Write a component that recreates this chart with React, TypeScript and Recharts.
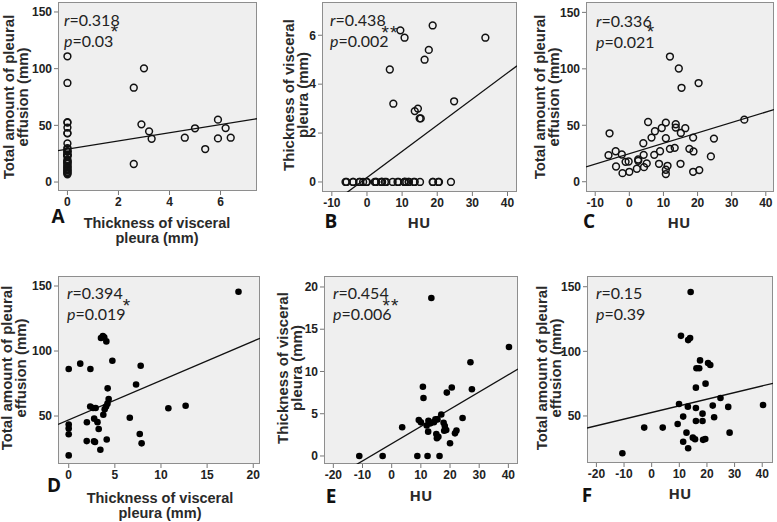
import React from 'react';
import { ScatterChart, Scatter, XAxis, YAxis, ReferenceLine } from 'recharts';

// top row: one cohort (A, B, C share the same patients)
const topThickness = [6.2, 5.9, 6.4, 5.9, 5.4, 5.0, 4.6, 3.2, 3.3, 3.0, 2.9, 2.6, 2.6,
  0, 0, 0, 0, 0, 0, 0, 0, 0, 0, 0, 0, 0, 0, 0, 0, 0, 0, 0, 0, 0, 0, 0, 0, 0, 0, 0, 0, 0, 0, 0, 0, 0, 0];
const topHU = [9.5, 10.7, 18.7, 33.7, 17.6, 16.4, 6.5, 7.5, 24.8, 14.5, 13.6, 15.3, 15.0,
  11.9, 20.3, -5.8, 5.5, 10.7, 13.6, 15.1, 4.1, 13.3, 11.9, 18.8, -4.0, 9.0, -6.1, -2.2, 4.2, 7.3,
  23.9, 2.6, 2.6, -1.1, -0.2, 5.1, 8.7, -3.9, 4.3, 11.2, 10.7, 2.2, -2.0, 0, 10.7, 18.7, 20.5];
const topEffusion = [47.6, 38.5, 39.1, 55, 29.1, 47.4, 39.1, 44.7, 38.2, 100.3, 50.9, 83.2, 15.9,
  110.9, 87.4, 42.9, 52.9, 52.4, 48, 43.2, 34.1, 30, 29.1, 26.8, 27, 27, 23.5, 24.1, 23.8, 23.8,
  22.4, 19.7, 18.5, 17.6, 17.9, 16.2, 15.9, 13.5, 12.9, 14.1, 10.6, 11.5, 7.6, 8.8, 6.8, 8.8, 10.3];

// D: thickness vs effusion
const dThickness = [18.4, 0, 1.25, 2.35, 3.5, 3.7, 3.85, 4.08, 4.73, 7.8, 7.3, 4.22, 4.33, 4.2, 4.05, 3.9,
  3.75, 2.33, 2.65, 2.92, 6.62, 10.8, 12.67, 0, 0, 0, 1.97, 2.76, 3.12, 3.25, 1.95, 2.74, 2.85,
  3.43, 4.12, 7.7, 7.9, 0];
const dEffusion = [145.6, 86.2, 90.3, 86.2, 110, 111.6, 110.5, 107.4, 92.5, 88.7, 74.2, 71.3, 63.1, 59.5, 57.3, 55.2,
  51, 57.3, 56.2, 56.2, 48.7, 56, 57.9, 43.4, 40.5, 36, 45.2, 48, 45.3, 40, 30.7, 30.6, 30,
  24.1, 32, 36.2, 29, 19.7];

// E: HU vs thickness
const eHU = [13.6, 40.2, 27.0, 10.7, 10.9, 18.9, 20.6, 27.5, 17.0, 24.3, 3.6, 9.3, 10.0, 12.6, 13.3, 12.0,
  14.5, 15.0, 15.7, 17.8, 18.2, 18.7, 18.0, 12.5, 15.3, 16.0, 15.5, 22.2, 21.7, 20.0, -11.1, -3.1, 8.8, 12.3, 16.4];
const eThickness = [18.7, 12.9, 11.1, 8.2, 6.86, 7.5, 8.1, 7.9, 4.9, 4.5, 3.4, 4.26, 3.98, 4.17, 3.86, 3.6,
  4.0, 4.33, 4.33, 3.94, 3.55, 3.07, 2.99, 2.88, 2.6, 2.28, 2.09, 3.0, 2.68, 1.5, 0, 0, 0, 0, 0];

// F: HU vs effusion
const fHU = [14.1, 10.6, 13.2, 13.9, 17.5, 20.4, 21.2, 16.2, 17.2, 19.5, 16.0, 9.9, 13.1, 16.0, 22.1, 24.9, 27.7,
  18.4, 11.4, 22.6, 16.0, 18.4, -2.7, 4.0, 9.4, 12.6, 14.9, 15.7, 18.6, 19.4, 28.2, 11.4, 13.2, -10.6, 40.3];
const fEffusion = [145.9, 112, 108.7, 110.3, 93, 91, 89.4, 86.9, 86.9, 75, 71.9, 59.3, 57.2, 56.2, 58, 63.9, 57,
  51.8, 49.5, 49, 46.1, 46.1, 41, 41, 43.8, 37.1, 33.2, 32, 31.5, 32.2, 37.1, 30.1, 25, 21.2, 58.5];

const thicknessTicks = [0, 2, 4, 6];
const thicknessTicksD = [0, 5, 10, 15, 20];
const huTicks = [-10, 0, 10, 20, 30, 40];
const huTicksWide = [-20, -10, 0, 10, 20, 30, 40];
const effusionTicks = [0, 50, 100, 150];
const effusionTicksD = [50, 100, 150];
const thicknessYTicks = [0, 2, 4, 6];
const thicknessYTicksE = [0, 5, 10, 15, 20];

const zip = (xs: number[], ys: number[]) => xs.map((x, i) => ({ x, y: ys[i] }));

const AXIS_FONT = '"Liberation Sans", Arial, sans-serif';
const NOTE_FONT = 'Lato, "Open Sans", sans-serif';
const LABEL_FONT = '"Open Sans", "Liberation Sans", sans-serif';

const EFFUSION_TITLE = ['Total amount of pleural', 'effusion (mm)'];
const THICK_TITLE = ['Thickness of visceral', 'pleura (mm)'];

const Y_AXIS_W = 40;
const X_AXIS_H = 22;

const Panel = ({ cfg }: { cfg: any }) => {
  const { box, xDomain, yDomain, xTicks, yTicks, points, filled, fit } = cfg;
  const [x0, x1] = xDomain;
  const seg = [
    { x: x0, y: fit[0] + fit[1] * x0 },
    { x: x1, y: fit[0] + fit[1] * x1 },
  ];
  const tickStyle = { fontSize: 12, fontWeight: 700, fill: '#222', fontFamily: AXIS_FONT };
  const dot = (p: any) =>
    filled ? (
      <circle cx={p.cx} cy={p.cy} r={3.3} fill="#000" />
    ) : (
      <circle cx={p.cx} cy={p.cy} r={3.4} fill="none" stroke="#111" strokeWidth={1.5} />
    );
  return (
    <>
      <div
        style={{
          position: 'absolute', left: box.left, top: box.top, width: box.width, height: box.height,
          background: '#efefef', border: '1px solid #8e8e8e', boxSizing: 'border-box',
        }}
      />
      <div style={{ position: 'absolute', left: box.left - Y_AXIS_W, top: box.top }}>
        <ScatterChart
          width={box.width + Y_AXIS_W}
          height={box.height + X_AXIS_H}
          margin={{ top: 0, right: 0, bottom: 0, left: 0 }}
        >
          <XAxis
            type="number" dataKey="x" domain={xDomain} ticks={xTicks} allowDataOverflow interval={0}
            axisLine={false} tickLine={{ stroke: '#777' }} tickSize={4} height={X_AXIS_H} tick={tickStyle}
          />
          <YAxis
            type="number" dataKey="y" domain={yDomain} ticks={yTicks} allowDataOverflow interval={0}
            axisLine={false} tickLine={{ stroke: '#777' }} tickSize={4} width={Y_AXIS_W} tick={tickStyle}
          />
          <ReferenceLine segment={seg} stroke="#111" strokeWidth={1.3} ifOverflow="hidden" />
          <Scatter data={points} shape={dot} isAnimationActive={false} />
        </ScatterChart>
      </div>
      <div
        style={{
          position: 'absolute', left: cfg.yTitle[0], top: cfg.yTitle[1],
          transform: 'translate(-50%, -50%) rotate(-90deg)', whiteSpace: 'nowrap', textAlign: 'center',
          fontFamily: AXIS_FONT, fontWeight: 700, fontSize: 15, lineHeight: '14px', color: '#2a2a2a',
        }}
      >
        {cfg.yLines.map((l: string) => <div key={l}>{l}</div>)}
      </div>
      <div
        style={{
          position: 'absolute', left: cfg.xTitle[0], top: cfg.xTitle[1],
          transform: 'translate(-50%, -50%)', whiteSpace: 'nowrap', textAlign: 'center',
          fontFamily: cfg.xLines.length > 1 ? AXIS_FONT : LABEL_FONT, fontWeight: 700,
          fontSize: cfg.xLines.length > 1 ? 14.5 : 15, lineHeight: '15px', color: '#2a2a2a',
        }}
      >
        {cfg.xLines.map((l: string) => <div key={l}>{l}</div>)}
      </div>
      <div
        style={{
          position: 'absolute', left: cfg.letter[0], top: cfg.letter[1], transform: 'translate(-50%, -50%)',
          fontFamily: LABEL_FONT, fontWeight: 700, fontSize: 19, color: '#111',
        }}
      >
        {cfg.name}
      </div>
      <div
        style={{
          position: 'absolute', left: cfg.note[0], top: cfg.note[1], fontFamily: NOTE_FONT,
          fontSize: 16, lineHeight: '21px', color: '#222', whiteSpace: 'nowrap',
        }}
      >
        <div><i>r</i>={cfg.r}</div>
        <div><i>p</i>={cfg.p}</div>
      </div>
      {cfg.stars && (
        <div
          style={{
            position: 'absolute', left: cfg.starPos[0], top: cfg.starPos[1], transform: 'translate(-50%, -50%)',
            fontFamily: AXIS_FONT, fontSize: 19, lineHeight: '19px', color: '#222', letterSpacing: 1,
          }}
        >
          {cfg.stars}
        </div>
      )}
    </>
  );
};

const panels = [
  {
    name: 'A', box: { left: 58, top: 2, width: 199, height: 189 },
    xDomain: [-0.37, 7.43], yDomain: [-7.9, 158.8], xTicks: thicknessTicks, yTicks: effusionTicks,
    points: zip(topThickness, topEffusion), filled: false, fit: [29.1, 3.6],
    yLines: EFFUSION_TITLE, yTitle: [16, 97], xLines: THICK_TITLE, xTitle: [157, 231],
    letter: [58, 216], note: [64, 9], r: '0.318', p: '0.03', stars: '*', starPos: [115, 31],
  },
  {
    name: 'B', box: { left: 322, top: 2, width: 195, height: 190 },
    xDomain: [-12.8, 42.7], yDomain: [-0.41, 7.36], xTicks: huTicks, yTicks: thicknessYTicks,
    points: zip(topHU, topThickness), filled: false, fit: [0.18, 0.107],
    yLines: THICK_TITLE, yTitle: [295.5, 95], xLines: ['HU'], xTitle: [419, 222],
    letter: [331, 221], note: [330, 9], r: '0.438', p: '0.002', stars: '**', starPos: [390, 32],
  },
  {
    name: 'C', box: { left: 586, top: 2, width: 188, height: 190 },
    xDomain: [-12.7, 42.4], yDomain: [-9.1, 159.2], xTicks: huTicks, yTicks: effusionTicks,
    points: zip(topHU, topEffusion), filled: false, fit: [24.9, 0.92],
    yLines: EFFUSION_TITLE, yTitle: [546.5, 97], xLines: ['HU'], xTitle: [679, 222],
    letter: [589, 221], note: [596, 10], r: '0.336', p: '0.021', stars: '*', starPos: [651, 31],
  },
  {
    name: 'D', box: { left: 58, top: 276, width: 202, height: 188 },
    xDomain: [-1.16, 20.73], yDomain: [13.1, 157.7], xTicks: thicknessTicksD, yTicks: effusionTicksD,
    points: zip(dThickness, dEffusion), filled: true, fit: [47, 3.03],
    yLines: EFFUSION_TITLE, yTitle: [14, 368], xLines: THICK_TITLE, xTitle: [160, 505.5],
    letter: [54, 485], note: [67, 282], r: '0.394', p: '0.019', stars: '*', starPos: [127, 305],
  },
  {
    name: 'E', box: { left: 324, top: 276, width: 194, height: 188 },
    xDomain: [-23.2, 43.3], yDomain: [-0.95, 21.3], xTicks: huTicksWide, yTicks: thicknessYTicksE,
    points: zip(eHU, eThickness), filled: true, fit: [1.45, 0.204],
    yLines: THICK_TITLE, yTitle: [290, 368], xLines: ['HU'], xTitle: [421, 495],
    letter: [331, 496], note: [333, 282], r: '0.454', p: '0.006', stars: '**', starPos: [391, 305],
  },
  {
    name: 'F', box: { left: 587, top: 276, width: 186, height: 187 },
    xDomain: [-23.4, 43.9], yDomain: [13.6, 158.3], xTicks: huTicksWide, yTicks: effusionTicksD,
    points: zip(fHU, fEffusion), filled: true, fit: [52.7, 0.514],
    yLines: EFFUSION_TITLE, yTitle: [548.5, 368], xLines: ['HU'], xTitle: [680, 493],
    letter: [587, 495], note: [596, 282], r: '0.15', p: '0.39', stars: '', starPos: [0, 0],
  },
];

export default function App() {
  return (
    <div style={{ position: 'absolute', left: 0, top: 0, width: 777, height: 522, background: '#fff', overflow: 'hidden' }}>
      {panels.map((cfg) => (
        <Panel key={cfg.name} cfg={cfg} />
      ))}
    </div>
  );
}
